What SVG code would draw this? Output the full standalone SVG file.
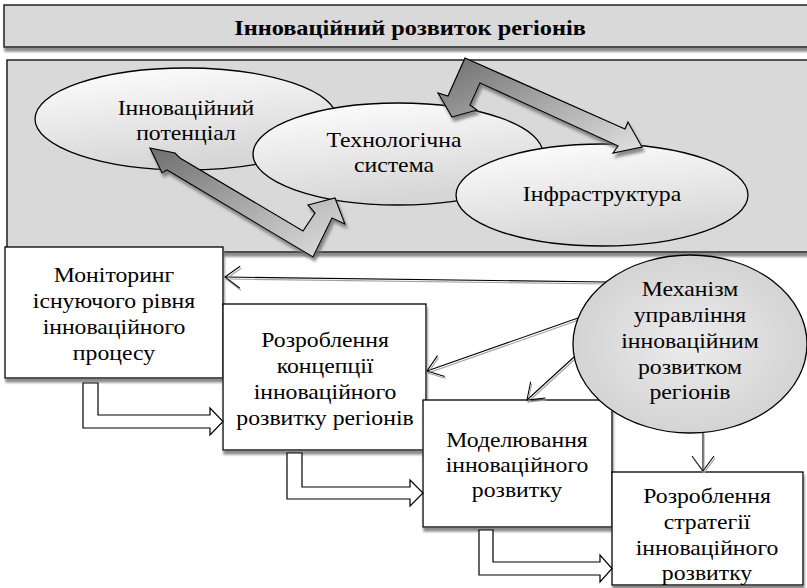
<svg xmlns="http://www.w3.org/2000/svg" width="807" height="588" viewBox="0 0 807 588">
<style>
  .t { font-family: "Liberation Serif", "Times New Roman", serif; font-size: 21px; fill: #000; text-anchor: middle; }
  .tb { font-family: "Liberation Serif", "Times New Roman", serif; font-size: 21.5px; font-weight: bold; fill: #000; text-anchor: middle; }
  .band { fill: #d9d9d9; stroke: #222; stroke-width: 1.5; }
  .box { fill: #fff; stroke: #000; stroke-width: 1.3; }
  .oval { stroke: #000; stroke-width: 1.3; }
  .big { stroke: #000; stroke-width: 1.2; stroke-linejoin: miter; }
  .flow { fill: #fff; stroke: #000; stroke-width: 1.2; }
  .conn { fill: none; stroke: #000; stroke-width: 1.1; }
</style>
<defs>
  <filter id="sh" x="-10%" y="-10%" width="130%" height="140%">
    <feDropShadow dx="1" dy="4" stdDeviation="0.8" flood-color="#7f7f7f" flood-opacity="0.9"/>
  </filter>
  <filter id="bsh" x="-10%" y="-10%" width="130%" height="130%">
    <feDropShadow dx="2" dy="4" stdDeviation="1.5" flood-color="#6f6f6f" flood-opacity="0.8"/>
  </filter>
  <filter id="lsh" x="-10%" y="-10%" width="130%" height="140%">
    <feDropShadow dx="1" dy="2" stdDeviation="0.4" flood-color="#a0a0a0" flood-opacity="1"/>
  </filter>
  <linearGradient id="ov" x1="0" y1="0" x2="0.3" y2="1">
    <stop offset="0" stop-color="#ffffff"/>
    <stop offset="1" stop-color="#d6d6d6"/>
  </linearGradient>
  <radialGradient id="mech" cx="0.5" cy="0.5" r="0.6">
    <stop offset="0" stop-color="#ececec"/>
    <stop offset="1" stop-color="#cfcfcf"/>
  </radialGradient>
  <linearGradient id="bg" x1="0" y1="0" x2="1" y2="1">
    <stop offset="0" stop-color="#6e6e6e"/>
    <stop offset="1" stop-color="#e2e2e2"/>
  </linearGradient>
  <marker id="v" markerUnits="userSpaceOnUse" markerWidth="22" markerHeight="28" refX="18" refY="13" orient="auto" viewBox="0 0 22 28">
    <path d="M3,2 L18,13 L3,24" fill="none" stroke="#000" stroke-width="1.1"/>
  </marker>
</defs>

<g id="title">
  <rect class="band" x="4" y="5" width="812" height="42" filter="url(#sh)"/>
  <text class="tb" transform="translate(410 0) scale(1.13 1)"><tspan x="0" y="35">Інноваційний розвиток регіонів</tspan></text>
</g>

<g id="panel">
  <rect class="band" x="7" y="60" width="812" height="192" filter="url(#sh)"/>
</g>

<g id="potential">
  <ellipse class="oval" cx="186" cy="119" rx="151" ry="51" fill="url(#ov)"/>
  <text class="t" transform="translate(186 0) scale(1.13 1)"><tspan x="0" y="115">Інноваційний</tspan><tspan x="0" y="140">потенціал</tspan></text>
</g>

<g id="techsystem">
  <ellipse class="oval" cx="398" cy="154" rx="145" ry="51" fill="url(#ov)"/>
  <text class="t" transform="translate(394 0) scale(1.13 1)"><tspan x="0" y="147">Технологічна</tspan><tspan x="0" y="172">система</tspan></text>
</g>

<g id="infrastructure">
  <ellipse class="oval" cx="602" cy="195" rx="146" ry="51" fill="url(#ov)"/>
  <text class="t" transform="translate(602 0) scale(1.13 1)"><tspan x="0" y="201">Інфраструктура</tspan></text>
</g>

<g id="bigarrows">
  <polygon class="big" fill="url(#bg)" filter="url(#bsh)" points="150,148 175,153 180,158 303,231 315,213 308,205 335,198 345,224 332,218 313,257 167,170 162,173"/>
  <polygon class="big" fill="url(#bg)" filter="url(#bsh)" points="465,58 625,129 628,122 642,147 613,153 618,146 480,83 470,105 477,110 452,117 438,93 448,96"/>
</g>

<g id="monitoring">
  <rect class="box" x="5" y="247" width="218" height="131" filter="url(#sh)"/>
  <text class="t" transform="translate(114 0) scale(1.13 1)"><tspan x="0" y="282">Моніторинг</tspan><tspan x="0" y="308">існуючого рівня</tspan><tspan x="0" y="334">інноваційного</tspan><tspan x="0" y="360">процесу</tspan></text>
</g>

<g id="concept">
  <rect class="box" x="223" y="304" width="203" height="146" filter="url(#sh)"/>
  <text class="t" transform="translate(325 0) scale(1.13 1)"><tspan x="0" y="347">Розроблення</tspan><tspan x="0" y="373">концепції</tspan><tspan x="0" y="399">інноваційного</tspan><tspan x="0" y="425">розвитку регіонів</tspan></text>
</g>

<g id="modeling">
  <rect class="box" x="423" y="400" width="189" height="127" filter="url(#sh)"/>
  <text class="t" transform="translate(517 0) scale(1.13 1)"><tspan x="0" y="447">Моделювання</tspan><tspan x="0" y="472">інноваційного</tspan><tspan x="0" y="497">розвитку</tspan></text>
</g>

<g id="strategy">
  <rect class="box" x="612" y="472" width="191" height="113" filter="url(#sh)"/>
  <text class="t" transform="translate(707 0) scale(1.13 1)"><tspan x="0" y="503">Розроблення</tspan><tspan x="0" y="529">стратегії</tspan><tspan x="0" y="555">інноваційного</tspan><tspan x="0" y="580">розвитку</tspan></text>
</g>

<g id="connectors">
  <g filter="url(#lsh)">
    <line class="conn" x1="606" y1="282" x2="225" y2="277" marker-end="url(#v)"/>
    <line class="conn" x1="578" y1="318" x2="427" y2="371" marker-end="url(#v)"/>
    <line class="conn" x1="574" y1="357" x2="527" y2="400" marker-end="url(#v)"/>
    <line class="conn" x1="703" y1="432" x2="703" y2="471" marker-end="url(#v)"/>
  </g>
  <polygon class="flow" points="83,383 98,383 98,415 210,415 210,408 223,421.5 210,435 210,428 83,428"/>
  <polygon class="flow" points="287,453 302,453 302,487 410,487 410,480 423,493 410,506 410,499 287,499"/>
  <polygon class="flow" points="479,530 493,530 493,562 600,562 600,555 612,568.5 600,582 600,575 479,575"/>
</g>

<g id="mechanism">
  <ellipse class="oval" cx="690" cy="344" rx="117" ry="89" fill="url(#mech)"/>
  <text class="t" transform="translate(690 0) scale(1.13 1)"><tspan x="0" y="296">Механізм</tspan><tspan x="0" y="322">управління</tspan><tspan x="0" y="348">інноваційним</tspan><tspan x="0" y="374">розвитком</tspan><tspan x="0" y="399">регіонів</tspan></text>
</g>
</svg>
